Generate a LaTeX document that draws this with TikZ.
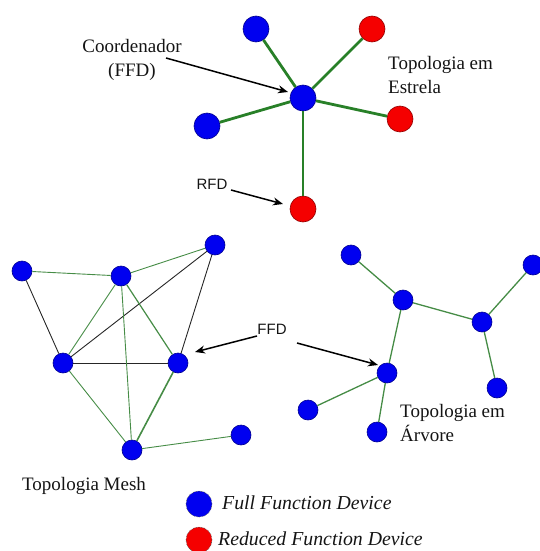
\documentclass[tikz,border=0pt]{standalone}
\usepackage{fontspec}
\setmainfont{Liberation Serif}
\newfontfamily\arialfont{Liberation Sans}
\usetikzlibrary{arrows.meta}
\definecolor{lgreen}{RGB}{40,128,40}
\definecolor{mgreen}{RGB}{70,140,70}
\definecolor{ffdblue}{RGB}{0,0,240}
\definecolor{rfdred}{RGB}{245,0,0}
\definecolor{lblcol}{RGB}{20,20,20}
\begin{document}
\begin{tikzpicture}[x=1pt,y=-1pt,
  ffd/.style={circle,fill=ffdblue,draw=ffdblue!60!black,line width=0.6pt,inner sep=0pt,minimum size=#1},
  ffd/.default=20pt,
  rfd/.style={circle,fill=rfdred,draw=rfdred!60!black,line width=0.6pt,inner sep=0pt,minimum size=#1},
  rfd/.default=26pt,
  starlink/.style={lgreen,line width=2.8pt},
  meshlink/.style={mgreen,line width=0.9pt},
  blacklink/.style={black!85,line width=0.9pt},
  treelink/.style={mgreen,line width=1.3pt},
  pointer/.style={black,line width=1.5pt,-{Stealth[length=10pt,width=8pt]}},
  lbl/.style={font=\fontsize{19}{24}\selectfont,text=lblcol,inner sep=0pt,align=left},
  leglbl/.style={font=\fontsize{19.8}{24}\selectfont\itshape,text=lblcol,inner sep=0pt,anchor=west},
  sanslbl/.style={font=\arialfont\fontsize{15}{18}\selectfont,text=lblcol,inner sep=0pt}
]
\useasboundingbox (0,0) rectangle (539,551);
% ---------- star ----------
\node[ffd=26pt] (sc) at (303,98) {};
\node[ffd=26pt] (s1) at (256,29) {};
\node[rfd] (s2) at (372,29) {};
\node[ffd=26pt] (s3) at (207,126) {};
\node[rfd] (s4) at (400,119) {};
\node[rfd] (s5) at (303,209) {};
\draw[starlink] (sc) -- (s1);
\draw[starlink] (sc) -- (s2);
\draw[starlink] (sc) -- (s3);
\draw[starlink] (sc) -- (s4);
\draw[starlink] (sc) -- (s5);
\node[lbl,align=center] (coord) at (132,60) {Coordenador\\(FFD)};
\coordinate (coordtail) at (166,58);
\coordinate (coordtip) at (288,92);
\draw[pointer] (coordtail) -- (coordtip);
\node[lbl] (estrela) at (388,75) [anchor=west] {Topologia em\\Estrela};
\node[sanslbl] (rfdlbl) at (212,184) {RFD};
\coordinate (rfdtail) at (231,190);
\coordinate (rfdtip) at (283,204);
\draw[pointer] (rfdtail) -- (rfdtip);
% ---------- mesh ----------
\node[ffd] (ma) at (22,271) {};
\node[ffd] (mb) at (121,276) {};
\node[ffd] (mc) at (215,245) {};
\node[ffd] (md) at (63,363) {};
\node[ffd] (me) at (178,363) {};
\node[ffd] (mf) at (132,450) {};
\node[ffd] (mg) at (241,435) {};
\draw[meshlink] (ma) -- (mb);
\draw[meshlink] (mb) -- (mc);
\draw[blacklink] (ma) -- (md);
\draw[blacklink] (md) -- (mc);
\draw[blacklink] (mc) -- (me);
\draw[blacklink] (md) -- (me);
\draw[meshlink] (mb) -- (md);
\draw[meshlink,line width=1.2pt] (mb) -- (me);
\draw[meshlink] (mb) -- (mf);
\draw[meshlink] (md) -- (mf);
\draw[meshlink,line width=1.6pt] (me) -- (mf);
\draw[meshlink] (mf) -- (mg);
\node[lbl] (mesh) at (22,486) [anchor=west] {Topologia Mesh};
% ---------- FFD pointers ----------
\node[sanslbl] (ffdlbl) at (272,329) {FFD};
\coordinate (ffdtail1) at (257,336);
\coordinate (ffdtip1) at (195,352);
\coordinate (ffdtail2) at (297,343);
\coordinate (ffdtip2) at (378,365);
\draw[pointer] (ffdtail1) -- (ffdtip1);
\draw[pointer] (ffdtail2) -- (ffdtip2);
% ---------- tree ----------
\node[ffd] (t1) at (351,255) {};
\node[ffd] (t2) at (403,300) {};
\node[ffd] (t3) at (533,265) {};
\node[ffd] (t4) at (482,322) {};
\node[ffd] (t5) at (387,373) {};
\node[ffd] (t6) at (308,410) {};
\node[ffd] (t7) at (377,432) {};
\node[ffd] (t8) at (497,388) {};
\draw[treelink] (t1) -- (t2);
\draw[treelink] (t2) -- (t4);
\draw[treelink] (t4) -- (t3);
\draw[treelink] (t4) -- (t8);
\draw[treelink] (t2) -- (t5);
\draw[treelink] (t5) -- (t6);
\draw[treelink] (t5) -- (t7);
\node[lbl] (arvore) at (400,423) [anchor=west] {Topologia em\\Árvore};
% ---------- legend ----------
\node[ffd=26pt,draw=black!70,densely dotted] (legffd) at (199,504) {};
\node[rfd=26pt,draw=black!70,densely dotted] (legrfd) at (199,540) {};
\node[leglbl] (legffdtxt) at (222,503) {Full Function Device};
\node[leglbl] (legrfdtxt) at (218,539) {Reduced Function Device};
\end{tikzpicture}
\end{document}
